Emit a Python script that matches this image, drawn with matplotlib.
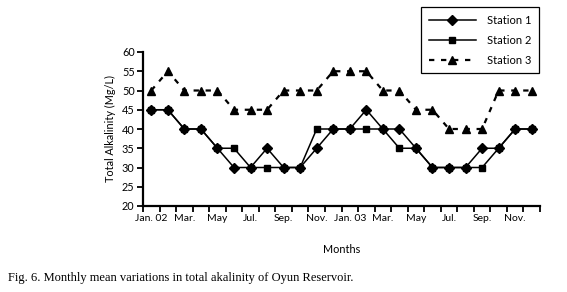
import numpy as np
import matplotlib.pyplot as plt

plt.rcParams['font.family'] = ['Lato', 'DejaVu Sans']

# Monthly means, Jan 2002 .. Dec 2003
months = ['Jan. 02', 'Feb.', 'Mar.', 'Apr.', 'May', 'Jun.', 'Jul.', 'Aug.', 'Sep.', 'Oct.', 'Nov.', 'Dec.',
          'Jan. 03', 'Feb.', 'Mar.', 'Apr.', 'May', 'Jun.', 'Jul.', 'Aug.', 'Sep.', 'Oct.', 'Nov.', 'Dec.']
station1 = [45, 45, 40, 40, 35, 30, 30, 35, 30, 30, 35, 40,
            40, 45, 40, 40, 35, 30, 30, 30, 35, 35, 40, 40]
station2 = [45, 45, 40, 40, 35, 35, 30, 30, 30, 30, 40, 40,
            40, 40, 40, 35, 35, 30, 30, 30, 30, 35, 40, 40]
station3 = [50, 55, 50, 50, 50, 45, 45, 45, 50, 50, 50, 55,
            55, 55, 50, 50, 45, 45, 40, 40, 40, 50, 50, 50]
labels = ['Station 1', 'Station 2', 'Station 3']

fig = plt.figure(figsize=(5.67, 2.92), dpi=100)
ax = fig.add_axes([143 / 567, 1 - 206 / 292, 397 / 567, 154 / 292])

x = np.arange(len(months))
ax.plot(x, station1, color='black', lw=1.1, marker='D', ms=4.6, label=labels[0])
ax.plot(x, station2, color='black', lw=1.1, marker='s', ms=4.3, label=labels[1])
ax.plot(x, station3, color='black', lw=1.6, ls=(0, (2.4, 3.0)), marker='^', ms=6.3, label=labels[2])

ax.set_xlim(-0.5, len(months) - 0.5)
ax.set_ylim(20, 60)
ax.set_yticks(np.arange(20, 61, 5))

# tick marks between months, labels every other month
ax.set_xticks(np.arange(-0.5, len(months), 1))
ax.set_xticklabels([])
ax.set_xticks(x[::2], minor=True)
ax.set_xticklabels(months[::2], minor=True)
ax.tick_params(axis='x', which='major', length=4, width=1.3, direction='out')
ax.tick_params(axis='x', which='minor', length=0, pad=6, labelsize=7.5)
ax.tick_params(axis='y', length=4, width=1.3, direction='out', labelsize=7.8, pad=2)

for s in ['top', 'right']:
    ax.spines[s].set_visible(False)
for s in ['left', 'bottom']:
    ax.spines[s].set_linewidth(1.6)

ax.set_ylabel('Total Alkalinity (Mg/L)', fontsize=7.8, labelpad=4)
ax.set_xlabel('Months', fontsize=7.8, labelpad=15)

leg = fig.legend(loc='upper right', bbox_to_anchor=(539 / 567, 1 - 7 / 292), fontsize=8,
                 handlelength=4.2, handletextpad=1.0, labelspacing=0.8, borderpad=0.7,
                 borderaxespad=0, fancybox=False, edgecolor='black', framealpha=1)
leg.get_frame().set_linewidth(0.9)

fig.text(8 / 567, 1 - 278 / 292, 'Fig. 6. Monthly mean variations in total akalinity of Oyun Reservoir.',
         family='Liberation Serif', fontsize=9, va='center')

fig.savefig('out.png', dpi=100)
